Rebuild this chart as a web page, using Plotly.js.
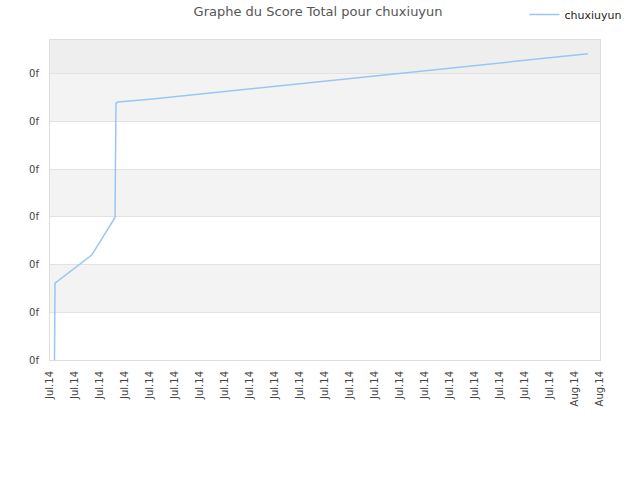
<!DOCTYPE html>
<html>
<head>
<meta charset="utf-8">
<script src="https://cdn.plot.ly/plotly-3.0.1.min.js"></script>
<style>
  html, body { margin: 0; padding: 0; background: #fff; }
  #plot1 { width: 640px; height: 480px; }
</style>
</head>
<body>
<div id="plot1"></div>
<script>
  // tick labels along the x axis
  var tickLabels = ['Jul.14', 'Jul.14', 'Jul.14', 'Jul.14', 'Jul.14', 'Jul.14', 'Jul.14', 'Jul.14',
    'Jul.14', 'Jul.14', 'Jul.14', 'Jul.14', 'Jul.14', 'Jul.14', 'Jul.14', 'Jul.14', 'Jul.14',
    'Jul.14', 'Jul.14', 'Jul.14', 'Jul.14', 'Aug.14', 'Aug.14'];
  var tickPos = [0, 1, 2, 3, 4, 5, 6, 7, 8, 9, 10, 11, 12, 13, 14, 15, 16, 17, 18, 19, 20, 21, 22];

  // score series (x in tick units)
  var scoreX = [0.18, 0.2, 1.67, 2.6, 2.62, 2.64, 2.72, 4.0, 21.52];
  var scoreY = [0, 1.61, 2.2, 2.99, 4.19, 5.39, 5.41, 5.47, 6.42];

  var yTicks = [0, 1, 2, 3, 4, 5, 6];
  var yTickText = ['0f', '0f', '0f', '0f', '0f', '0f', '0f'];

  var series = {
    x: scoreX,
    y: scoreY,
    name: 'chuxiuyun',
    type: 'scatter',
    mode: 'lines',
    line: {color: '#99c6f2', width: 1.5}
  };

  // alternating background bands
  var bands = [];
  [[1, 2], [3, 4], [5, 6]].forEach(function (b) {
    bands.push({type: 'rect', xref: 'paper', yref: 'y', x0: 0, x1: 1, y0: b[0], y1: b[1],
      fillcolor: '#f3f3f3', line: {width: 0}, layer: 'below'});
  });
  bands.push({type: 'rect', xref: 'paper', yref: 'y', x0: 0, x1: 1, y0: 6, y1: 6.71,
    fillcolor: '#eeeeee', line: {width: 0}, layer: 'below'});

  var layout = {
    width: 640,
    height: 480,
    margin: {l: 50, r: 40, t: 40, b: 120, autoexpand: false},
    paper_bgcolor: '#ffffff',
    plot_bgcolor: '#ffffff',
    font: {family: 'DejaVu Sans, Verdana, sans-serif', size: 10, color: '#444'},
    title: {text: 'Graphe du Score Total pour chuxiuyun', x: 0.497, xanchor: 'center', y: 0.985, yanchor: 'top',
      font: {size: 13, color: '#555'}},
    showlegend: true,
    legend: {x: 1.05, xanchor: 'right', y: 1.125, yanchor: 'top', orientation: 'h',
      itemwidth: 30, font: {size: 11, color: '#222'}, bgcolor: 'rgba(0,0,0,0)'},
    xaxis: {
      range: [0, 22],
      tickmode: 'array',
      tickvals: tickPos,
      ticktext: tickLabels,
      tickangle: -90,
      showgrid: false,
      zeroline: false,
      showline: true,
      mirror: true,
      linecolor: '#dddddd',
      ticks: '',
      ticklabelstandoff: 6,
      tickfont: {size: 10, color: '#444'}
    },
    yaxis: {
      range: [0, 6.71],
      tickmode: 'array',
      tickvals: yTicks,
      ticktext: yTickText,
      showgrid: true,
      gridcolor: '#e2e2e2',
      zeroline: false,
      showline: true,
      mirror: true,
      linecolor: '#dddddd',
      ticks: '',
      ticklabelstandoff: 8,
      tickfont: {size: 10, color: '#444'}
    },
    shapes: bands
  };

  Plotly.newPlot('plot1', [series], layout, {displayModeBar: false, staticPlot: true});
</script>
</body>
</html>
